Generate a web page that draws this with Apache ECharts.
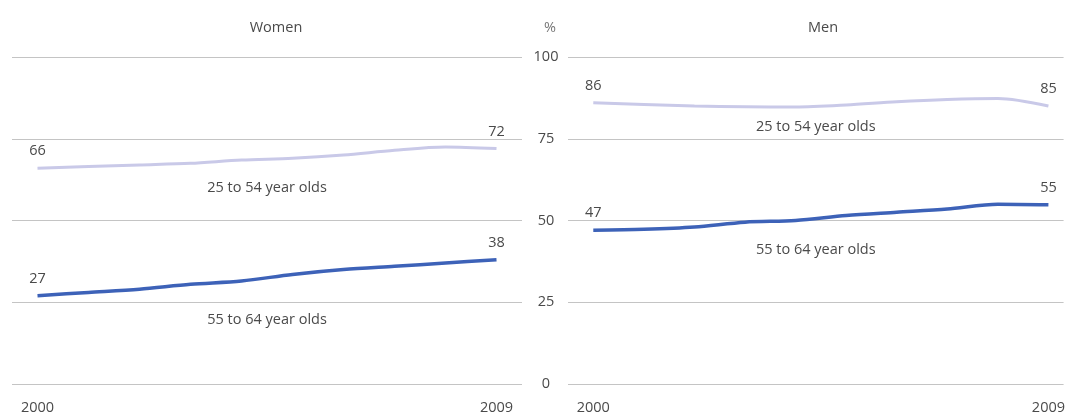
<!DOCTYPE html>
<html>
<head>
<meta charset="utf-8">
<script src="https://cdn.jsdelivr.net/npm/echarts@6/dist/echarts.min.js"></script>
<style>
html,body{margin:0;padding:0;background:#fff;}
#c{width:1068px;height:417px;}
</style>
</head>
<body>
<div id="c"></div>
<script>
var years = [2000, 2001, 2002, 2003, 2004, 2005, 2006, 2007, 2008, 2009];
var women2554 = [66, 66.5, 67, 67.5, 68.5, 69, 70, 71.5, 72.5, 72];
var women5564 = [27, 28, 29, 30.5, 31.5, 33.5, 35, 36, 37, 38];
var men2554 = [86, 85.5, 85, 84.8, 84.7, 85.3, 86.3, 87, 87.3, 85];
var men5564 = [47, 47.3, 48, 49.5, 50, 51.5, 52.5, 53.5, 55, 54.8];
var yTicks = [0, 25, 50, 75, 100];
var xTickLabels = [2000, 2009];
var panelTitles = ['Women', 'Men'];
var unitLabel = '%';
var groupNames = ['25 to 54 year olds', '55 to 64 year olds'];
// anchor (year, value) for the group name labels
var womenNameAnchors = [[2004.5, 59.9], [2004.5, 19.6]];
var menNameAnchors = [[2004.4, 78.6], [2004.4, 41]];

var FONT = 'Open Sans';
var FS = 14.5;
var TXT = '#4a4a4a';
var LIGHT = '#c9c9e8';
var DARK = '#3d62b8';

function pairs(vals) { return years.map(function (y, i) { return [y, vals[i]]; }); }

function lineSeries(idx, vals, color, width, anchor, name) {
  var last = years.length - 1;
  var lblStyle = { show: true, position: 'inside', color: TXT, fontFamily: FONT, fontSize: FS };
  return {
    type: 'line', xAxisIndex: idx, yAxisIndex: idx,
    data: pairs(vals), smooth: 0.3, showSymbol: false, symbol: 'none',
    lineStyle: { color: color, width: width },
    markPoint: {
      symbol: 'circle', symbolSize: 0, silent: true,
      label: lblStyle,
      data: [
        { coord: anchor, label: { formatter: name } },
        { coord: [years[0], vals[0]], label: { formatter: String(Math.round(vals[0])), offset: [0, -17] } },
        { coord: [years[last], vals[last]], label: { formatter: String(Math.round(vals[last])), offset: [0, -17] } }
      ]
    },
    z: 3
  };
}

var chart = echarts.init(document.getElementById('c'), null, { renderer: 'canvas' });
var yMin = yTicks[0], yMax = yTicks[yTicks.length - 1], yInt = yTicks[1] - yTicks[0];
function yearFmt(v) { return String(v); }

var option = {
  animation: false,
  backgroundColor: '#fff',
  title: [
    { text: panelTitles[0], left: 271, top: 15, textAlign: 'center',
      textStyle: { fontFamily: FONT, fontSize: FS, fontWeight: 'normal', color: TXT } },
    { text: panelTitles[1], left: 818, top: 15, textAlign: 'center',
      textStyle: { fontFamily: FONT, fontSize: FS, fontWeight: 'normal', color: TXT } },
    { text: unitLabel, left: 545, top: 15, textAlign: 'center',
      textStyle: { fontFamily: FONT, fontSize: FS, fontWeight: 'normal', color: '#777' } }
  ],
  grid: [
    { left: 12, right: 546, top: 57, bottom: 33 },
    { left: 568, right: 0, top: 57, bottom: 33 }
  ],
  xAxis: [
    { gridIndex: 0, type: 'value', min: 1999.5, max: 2009.5,
      axisLine: { show: false }, axisTick: { show: false }, splitLine: { show: false },
      axisLabel: { customValues: xTickLabels, formatter: yearFmt, margin: 16, color: TXT, fontFamily: FONT, fontSize: FS } },
    { gridIndex: 1, type: 'value', min: 1999.5, max: 2009.3,
      axisLine: { show: false }, axisTick: { show: false }, splitLine: { show: false },
      axisLabel: { customValues: xTickLabels, formatter: yearFmt, margin: 16, color: TXT, fontFamily: FONT, fontSize: FS } }
  ],
  yAxis: [
    { gridIndex: 0, type: 'value', min: yMin, max: yMax, interval: yInt,
      axisLine: { show: false }, axisTick: { show: false }, axisLabel: { show: false },
      splitLine: { lineStyle: { color: '#c4c4c4', width: 1 } } },
    { gridIndex: 1, type: 'value', min: yMin, max: yMax, interval: yInt,
      axisLine: { show: false }, axisTick: { show: false },
      axisLabel: { align: 'center', margin: 22, color: TXT, fontFamily: FONT, fontSize: FS },
      splitLine: { lineStyle: { color: '#c4c4c4', width: 1 } } }
  ],
  series: [
    lineSeries(0, women2554, LIGHT, 3, womenNameAnchors[0], groupNames[0]),
    lineSeries(0, women5564, DARK, 3.5, womenNameAnchors[1], groupNames[1]),
    lineSeries(1, men2554, LIGHT, 3, menNameAnchors[0], groupNames[0]),
    lineSeries(1, men5564, DARK, 3.5, menNameAnchors[1], groupNames[1])
  ]
};
chart.setOption(option);
</script>
</body>
</html>
